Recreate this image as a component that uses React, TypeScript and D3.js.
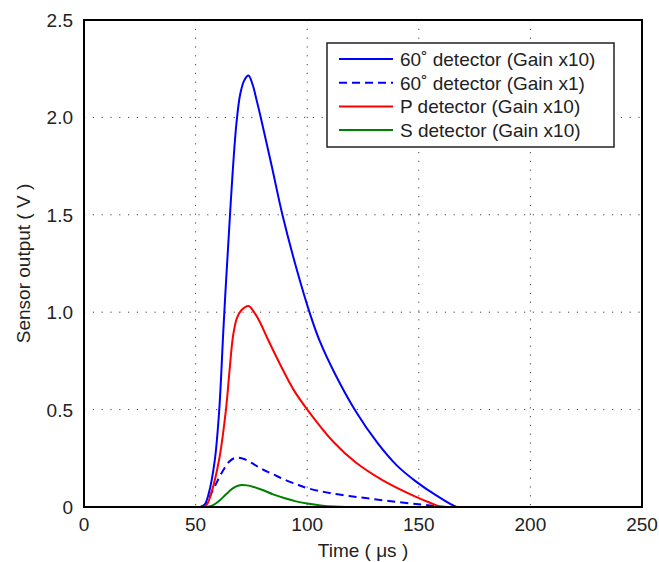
import React, { useRef, useEffect } from "react";
import * as d3 from "d3";

// values
const xTicks = [0, 50, 100, 150, 200, 250];
const yTicks = [0, 0.5, 1.0, 1.5, 2.0, 2.5];

const t60x10 = [0, 50, 52, 54, 55.9, 58.6, 60.6, 62.4, 63.6, 65, 66.5, 68.3, 70, 71.8, 73.7, 75.5, 77.3, 79.2, 84.2, 88.9, 95.1, 101.3, 105.5, 112.6, 121.8, 131.4, 140, 148.5, 158, 167, 169, 238];
const v60x10 = [0, 0, 0, 0.012, 0.07, 0.241, 0.5, 0.9, 1.15, 1.42, 1.7, 1.97, 2.12, 2.19, 2.215, 2.17, 2.09, 2.0, 1.745, 1.5, 1.228, 0.99, 0.855, 0.68, 0.49, 0.33, 0.215, 0.133, 0.058, 0, 0, 0];

const t60x1 = [0, 51, 53, 55, 57, 59, 60.7, 63, 65, 67, 69.1, 72, 76, 80, 84.7, 90, 96, 100, 110, 123.3, 136.6, 150, 159, 163, 165, 238];
const v60x1 = [0, 0, 0.004, 0.02, 0.07, 0.115, 0.155, 0.2, 0.232, 0.249, 0.253, 0.245, 0.22, 0.193, 0.168, 0.14, 0.113, 0.097, 0.072, 0.05, 0.031, 0.014, 0.003, 0, 0, 0];

const tP = [0, 53, 55, 57, 60.5, 63.6, 65.2, 66.8, 68.5, 70.5, 73.7, 76.2, 78.8, 82, 88.4, 94, 100.7, 111.7, 121.8, 133.7, 148.5, 155, 160.4, 162, 238];
const vP = [0, 0, 0.012, 0.07, 0.241, 0.5, 0.7, 0.88, 0.97, 1.01, 1.032, 1.0, 0.95, 0.87, 0.72, 0.6, 0.49, 0.335, 0.228, 0.138, 0.053, 0.022, 0, 0, 0];

const tS = [0, 55, 57, 59, 61, 63, 65, 67, 69, 70.8, 73, 76, 80, 84.7, 90, 95, 100, 106, 112, 118, 120, 238];
const vS = [0, 0, 0.005, 0.018, 0.036, 0.058, 0.08, 0.098, 0.109, 0.113, 0.111, 0.103, 0.087, 0.065, 0.045, 0.029, 0.018, 0.008, 0.002, 0, 0, 0];

const seriesNames = [
  "60˚ detector (Gain x10)",
  "60˚ detector (Gain x1)",
  "P detector (Gain x10)",
  "S detector (Gain x10)",
];
const seriesColors = ["#0000ff", "#0000ff", "#ff0000", "#008000"];
const seriesDash = [null, "8,5", null, null];

const App = () => {
  const ref = useRef(null);

  useEffect(() => {
    document.body.style.margin = "0";
    const svg = d3.select(ref.current);
    svg.selectAll("*").remove();

    const margin = { top: 20, right: 17, bottom: 55, left: 84 },
      width = 659 - margin.left - margin.right,
      height = 562 - margin.top - margin.bottom;
    const font = "'Liberation Sans', Arial, Helvetica, sans-serif";

    const x = d3.scaleLinear().domain([0, 250]).range([0, width]);
    const y = d3.scaleLinear().domain([0, 2.5]).range([height, 0]);

    svg
      .append("defs")
      .append("clipPath")
      .attr("id", "plot-clip")
      .append("rect")
      .attr("x", 0)
      .attr("y", 0)
      .attr("width", width)
      .attr("height", height + 1);

    const chart = svg
      .append("g")
      .attr("transform", `translate(${margin.left},${margin.top})`);

    // dotted grid
    chart
      .selectAll(".gx")
      .data(xTicks.slice(1, -1))
      .enter()
      .append("line")
      .attr("x1", (d) => x(d))
      .attr("x2", (d) => x(d))
      .attr("y1", 0)
      .attr("y2", height)
      .attr("stroke", "#444")
      .attr("stroke-width", 1)
      .attr("stroke-dasharray", "1.2,7.6");
    chart
      .selectAll(".gy")
      .data(yTicks.slice(1, -1))
      .enter()
      .append("line")
      .attr("x1", 0)
      .attr("x2", width)
      .attr("y1", (d) => y(d))
      .attr("y2", (d) => y(d))
      .attr("stroke", "#444")
      .attr("stroke-width", 1)
      .attr("stroke-dasharray", "1.2,7.6");

    // curves
    const data = [
      [t60x10, v60x10],
      [t60x1, v60x1],
      [tP, vP],
      [tS, vS],
    ].map(([ts, vs]) => ts.map((t, i) => [t, vs[i]]));

    const line = d3
      .line()
      .x((d) => x(d[0]))
      .y((d) => y(d[1]))
      .curve(d3.curveCatmullRom.alpha(0.5));

    const curves = chart.append("g").attr("clip-path", "url(#plot-clip)");
    data.forEach((pts, i) => {
      curves
        .append("path")
        .attr("d", line(pts))
        .attr("fill", "none")
        .attr("stroke", seriesColors[i])
        .attr("stroke-width", 2)
        .attr("stroke-dasharray", seriesDash[i]);
    });

    // frame
    chart
      .append("rect")
      .attr("width", width)
      .attr("height", height)
      .attr("fill", "none")
      .attr("stroke", "#000")
      .attr("stroke-width", 2);

    // tick labels
    chart
      .selectAll(".xt")
      .data(xTicks)
      .enter()
      .append("text")
      .attr("x", (d) => x(d))
      .attr("y", height + 24)
      .attr("text-anchor", "middle")
      .style("font-family", font)
      .style("font-size", "19px")
      .attr("fill", "#222")
      .text((d) => d);
    chart
      .selectAll(".yt")
      .data(yTicks)
      .enter()
      .append("text")
      .attr("x", -11)
      .attr("y", (d) => y(d) + 7)
      .attr("text-anchor", "end")
      .style("font-family", font)
      .style("font-size", "19px")
      .attr("fill", "#222")
      .text((d) => (d === 0 ? "0" : d3.format(".1f")(d)));

    // axis labels
    svg
      .append("text")
      .attr("x", margin.left + width / 2)
      .attr("y", 557)
      .attr("text-anchor", "middle")
      .style("font-family", font)
      .style("font-size", "19px")
      .attr("fill", "#222")
      .text("Time ( μs )");
    svg
      .append("text")
      .attr("transform", `translate(30,${margin.top + height / 2}) rotate(-90)`)
      .attr("text-anchor", "middle")
      .style("font-family", font)
      .style("font-size", "19px")
      .attr("fill", "#222")
      .text("Sensor output ( V )");

    // legend
    const lg = svg.append("g").attr("transform", "translate(327,43)");
    lg.append("rect")
      .attr("width", 287)
      .attr("height", 104)
      .attr("fill", "#fff")
      .attr("stroke", "#222")
      .attr("stroke-width", 1.5);
    seriesNames.forEach((name, i) => {
      const cy = 16 + i * 23.7;
      lg.append("line")
        .attr("x1", 12)
        .attr("x2", 66)
        .attr("y1", cy)
        .attr("y2", cy)
        .attr("stroke", seriesColors[i])
        .attr("stroke-width", 2)
        .attr("stroke-dasharray", seriesDash[i]);
      lg.append("text")
        .attr("x", 73)
        .attr("y", cy + 7)
        .style("font-family", font)
        .style("font-size", "19px")
        .attr("fill", "#222")
        .text(name);
    });
  }, []);

  return <svg ref={ref} width={659} height={562} style={{ display: "block" }} />;
};

export default App;
